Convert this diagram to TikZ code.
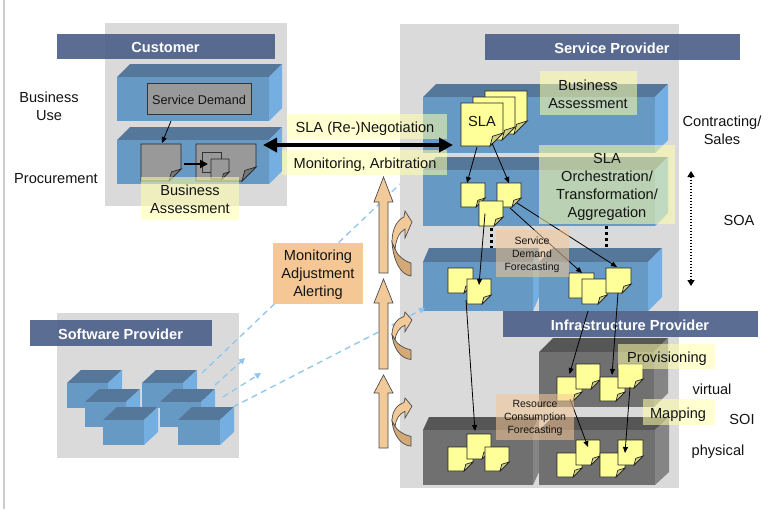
\documentclass[tikz,border=0pt]{standalone}
\usepackage{fontspec}
\setmainfont{Liberation Sans}
\usetikzlibrary{arrows.meta,calc}
\definecolor{panelc}{HTML}{DADADA}
\definecolor{barc}{HTML}{4F628A}
\definecolor{bluef}{HTML}{6699C4}
\definecolor{bluet}{HTML}{55789A}
\definecolor{bluer}{HTML}{75AEE0}
\definecolor{grayf}{HTML}{707070}
\definecolor{grayt}{HTML}{565656}
\definecolor{grayr}{HTML}{858585}
\definecolor{noteY}{HTML}{FFFF99}
\definecolor{noteYd}{HTML}{CFCF85}
\definecolor{noteG}{HTML}{999999}
\definecolor{noteGd}{HTML}{777777}
\definecolor{overY}{HTML}{FFFFA8}
\definecolor{overO}{HTML}{F5C795}
\definecolor{tanc}{HTML}{F2C998}
\definecolor{tand}{HTML}{D3A978}
\definecolor{dashc}{HTML}{8EC6F0}
\definecolor{txt}{HTML}{141414}
\tikzset{
  x=1pt,y=-1pt,
  lab/.style={font=\fontsize{14.6}{18}\selectfont,text=txt,align=center,inner sep=0},
  smalllab/.style={font=\fontsize{10.5}{13}\selectfont,text=txt,align=center,inner sep=0},
  barlab/.style={font=\fontsize{14.6}{18}\selectfont\bfseries,text=white,align=center,inner sep=0},
  conn/.style={draw=black,line width=.8pt,-{Triangle[length=6pt,width=5pt]}},
  dash1/.style={draw=dashc,line width=1.3pt,dash pattern=on 6pt off 4.5pt},
  dashar/.style={dash1,-{Triangle[length=6pt,width=6pt]}},
  dotsv/.style={draw=black,line width=3pt,dash pattern=on 3pt off 3pt},
}
% box of the given corners: name, x1,y1,x2,y2, options
\newcommand{\rectnode}[6]{\node[inner sep=0,outer sep=0,minimum width={(#4-#2)*1pt},minimum height={(#5-#3)*1pt},#6] (#1) at ({(#2+#4)/2},{(#3+#5)/2}) {};}
\newcommand{\cuboid}[8]{% name,x1,y1,x2,y2,depth,colour prefix, slant-y
  \fill[#7t] (#2,#3) -- (#2+#6,#3-#8) -- (#4+#6,#3-#8) -- (#4,#3) -- cycle;
  \fill[#7r] (#4,#3) -- (#4+#6,#3-#8) -- (#4+#6,#5-#8) -- (#4,#5) -- cycle;
  \rectnode{#1}{#2}{#3}{#4}{#5}{fill=#7f}
}
\newcommand{\note}[7]{% name,x1,y1,x2,y2,fold,colour prefix
  \pgfmathsetmacro{\fo}{#6}
  \rectnode{#1}{#2}{#3}{#4}{#5}{}
  \filldraw[draw=black!85,line width=.9pt,fill=#7] (#2,#3) -- (#4,#3) -- (#4,#5-\fo) -- (#4-\fo,#5) -- (#2,#5) -- cycle;
  \filldraw[draw=black!85,line width=.7pt,fill=#7d] (#4,#5-\fo) -- (#4-\fo*.8,#5-\fo*.75) -- (#4-\fo,#5) -- cycle;
}
\newcommand{\ynote}[5]{\note{#1}{#2}{#3}{#4}{#5}{9}{noteY}}
\newcommand{\overlay}[6]{\rectnode{#1}{#2}{#3}{#4}{#5}{fill=#6,fill opacity=.55}}
\newcommand{\joint}[6]{\draw[conn] ($(#1.center)+(#2,#3)$) -- ($(#4.center)+(#5,#6)$);}
\newcommand{\uparr}[5]{% name,x,tip,base,bottom
  \filldraw[draw=black!70,line width=.7pt,fill=tanc] (#2,#3) -- (#2+9.5,#4) -- (#2+4.5,#4) -- (#2+4.5,#5) -- (#2-4.5,#5) -- (#2-4.5,#4) -- (#2-9.5,#4) -- cycle;
  \coordinate (#1) at (#2,#3);
}
\newcommand{\turnarr}[3]{% top y, y scale, name
  \begin{scope}[shift={(392,#1)},yscale=#2]
    \filldraw[draw=black!70,line width=.7pt,fill=tand] (0,31) .. controls (1,48) and (8,64) .. (19,65) -- (19,52) .. controls (12,50) and (5,44) .. (3,38) -- cycle;
    \filldraw[draw=black!70,line width=.7pt,fill=tanc] (0,31) .. controls (0,18) and (5,9) .. (12,6) -- (13,0) -- (20,11) -- (13,27) -- (13,18) .. controls (7,21) and (4,29) .. (3,38) -- cycle;
  \end{scope}
  \coordinate (#3) at (392,#1);
}
\begin{document}
\begin{tikzpicture}
\useasboundingbox (0,0) rectangle (770,509);
\fill[white] (0,0) rectangle (770,509);
\coordinate (edgeT) at (4,0);
\coordinate (edgeB) at (4,509);
\draw[black!20,line width=1.4pt] (edgeT) -- (edgeB);

% panels
\rectnode{custpanel}{105}{23}{287}{206}{fill=panelc}
\rectnode{swpanel}{57}{313}{239}{458}{fill=panelc}
\rectnode{sppanel}{400}{24}{679}{488}{fill=panelc}

% header bars
\rectnode{custbar}{57}{34}{275}{59}{fill=barc,fill opacity=.93}
\rectnode{swbar}{30}{320}{212}{346}{fill=barc,fill opacity=.93}
\rectnode{spbar}{485}{34}{740}{60}{fill=barc,fill opacity=.93}
\node[barlab] (custtxt) at (165.5,47) {Customer};
\node[barlab] (swtxt) at (120.5,334) {Software Provider};
\node[barlab] (sptxt) at (612,48) {Service Provider};

% customer
\cuboid{cbiz}{117}{77}{269}{121}{13}{blue}{13}
\cuboid{cproc}{117}{140}{269}{184}{13}{blue}{13}
\rectnode{demand}{147}{83}{251}{114}{fill=noteG,draw=black!80,line width=.9pt}
\node[inner sep=0,font=\fontsize{12.7}{15}\selectfont,text=txt] (demandtxt) at (199,100) {Service Demand};
\note{cd1}{141}{144}{181}{181}{12}{noteG}
\note{cd2}{196}{144}{256}{181}{14}{noteG}
\rectnode{cd3}{202}{152}{221}{172}{fill=noteG,draw=black!80,line width=.8pt}
\note{cd4}{211}{159}{229}{179}{7}{noteG}
\draw[conn] ($(demand.south)+(-28,7)$) -- ($(cd1.north)+(1,-1)$);
\draw[draw=black,line width=2pt,-{Triangle[length=8pt,width=8pt]}] ($(cd1.east)+(3,1.5)$) -- ($(cd4.west)+(-3,-5)$);

% service provider cuboids
\cuboid{spa}{423}{97}{655}{153}{13}{blue}{13}
\cuboid{spb}{423}{170}{655}{226}{13}{blue}{13}
\cuboid{spc}{423}{262}{533}{311}{6}{blue}{14}
\cuboid{spd}{539}{262}{648}{311}{14}{blue}{14}
\rectnode{ipbar}{503}{311}{758}{337}{fill=barc,fill opacity=.93}
\node[barlab] (iptxt) at (630,325) {Infrastructure Provider};

% infrastructure cuboids
\cuboid{ipa}{539}{352}{654}{407}{14}{gray}{14}
\cuboid{ipb}{423}{430}{533}{485}{6}{gray}{13}
\cuboid{ipc}{539}{430}{655}{485}{14}{gray}{13}

% dotted links
\coordinate (da1) at (491,228);
\coordinate (da2) at (491,248);
\coordinate (db1) at (606,226);
\coordinate (db2) at (606,248);
\draw[dotsv] (da1) -- (da2);
\draw[dotsv] (db1) -- (db2);

% software boxes
\cuboid{sw1}{67}{383}{108}{408}{14}{blue}{13}
\cuboid{sw4}{142}{383}{183}{408}{14}{blue}{13}
\cuboid{sw2}{85}{402}{126}{427}{14}{blue}{13}
\cuboid{sw5}{160}{402}{201}{427}{14}{blue}{13}
\cuboid{sw3}{103}{420}{144}{445}{14}{blue}{13}
\cuboid{sw6}{178}{420}{220}{445}{14}{blue}{13}

% dashed blue lines
\coordinate (dl1a) at (202,373);
\coordinate (dl1b) at (400,184);
\coordinate (dl2a) at (215,385);
\coordinate (dl2b) at (245,358);
\coordinate (dl3a) at (223,397);
\coordinate (dl3b) at (261,373);
\coordinate (dl4a) at (233,407);
\coordinate (dl4b) at (425,308);
\draw[dash1] (dl1a) -- (dl1b);
\draw[dashar] (dl2a) -- (dl2b);
\draw[dashar] (dl3a) -- (dl3b);
\draw[dashar] (dl4a) -- (dl4b);

% notes
\note{sla3}{485}{91}{527}{134}{13}{noteY}
\note{sla2}{473}{97}{515}{140}{13}{noteY}
\note{sla1}{461}{103}{503}{146}{13}{noteY}
\node[lab] (slatxt) at (482,121) {SLA};
\ynote{sa}{461}{183}{485}{207}
\ynote{sb}{497}{183}{521}{207}
\ynote{sc}{479}{201}{503}{226}
\ynote{r1}{448}{268}{473}{293}
\ynote{r2}{467}{279}{491}{304}
\ynote{r3}{569}{273}{594}{298}
\ynote{r4}{582}{279}{607}{304}
\ynote{r5}{606}{268}{631}{293}
\ynote{v1}{557}{377}{582}{401}
\ynote{v2}{576}{364}{600}{389}
\ynote{v3}{600}{377}{625}{401}
\ynote{v4}{618}{364}{643}{388}
\ynote{p1}{448}{447}{473}{471}
\ynote{p2}{467}{434}{491}{459}
\ynote{p3}{485}{447}{509}{471}
\ynote{p4}{557}{453}{582}{477}
\ynote{p5}{576}{440}{600}{465}
\ynote{p6}{600}{453}{625}{477}
\ynote{p7}{618}{440}{643}{465}

% connectors between notes
\joint{sla1}{-5}{22.5}{sa}{-6}{-12}
\joint{sla1}{10}{18.5}{sb}{0}{-12}
\joint{sc}{-6}{0}{r2}{0}{-6.5}
\joint{r2}{-13}{8.5}{p2}{-4}{-15.5}
\joint{sb}{1}{13}{r3}{0.5}{-12.5}
\joint{sb}{8}{8}{r5}{-1.5}{-13.5}
\joint{r4}{-6.5}{19.5}{v1}{0}{-15}
\joint{r5}{-0.5}{12.5}{v3}{-0.5}{-14}
\joint{v1}{0.5}{10}{p5}{0}{-5.5}
\joint{v4}{-0.5}{11}{p7}{-5.5}{0.5}

% translucent label fields
\overlay{ovneg}{287}{114}{447}{139}{overY}
\overlay{ovmon}{282}{150}{447}{175}{overY}
\overlay{ovbac}{141}{177}{239}{220}{overY}
\overlay{ovbas}{540}{71}{637}{115}{overY}
\overlay{ovorch}{539}{145}{675}{224}{overY}
\overlay{ovprov}{618}{344}{715}{369}{overY}
\overlay{ovmap}{643}{399}{715}{425}{overY}
\overlay{ovsd}{496}{230}{569}{277}{overO}
\overlay{ovrc}{496}{394}{574}{440}{overO}

% negotiation arrow
\coordinate (negL) at (263,145);
\coordinate (negR) at (453,145);
\draw[draw=black,line width=4pt,{Triangle[length=14pt,width=14pt]}-{Triangle[length=14pt,width=14pt]}] (negL) -- (negR);

% orange arrows
\uparr{ua1}{383.5}{177}{202}{273}
\uparr{ua2}{383.5}{279}{303}{369}
\uparr{ua3}{383.5}{375}{393}{448}
\turnarr{211}{1}{ta1}
\turnarr{312}{.73}{ta2}
\turnarr{398}{.74}{ta3}

% monitoring box
\rectnode{monbox}{273}{243}{363}{304}{fill=overO}
\node[lab] (montxt) at (318,275) {Monitoring\\Adjustment\\Alerting};

% labels
\node[lab] (tneg) at (365,128.5) {SLA (Re-)Negotiation};
\node[lab] (tmon) at (365,164.5) {Monitoring, Arbitration};
\node[lab] (tbac) at (190,199.5) {Business\\Assessment};
\node[lab] (tbas) at (588,94) {Business\\Assessment};
\node[lab] (torch) at (607,187) {SLA\\Orchestration/\\Transformation/\\Aggregation};
\node[smalllab] (tsd) at (532,255) {Service\\Demand\\Forecasting};
\node[smalllab] (trc) at (535,418) {Resource\\Consumption\\Forecasting};
\node[lab] (tprov) at (667,359) {Provisioning};
\node[lab] (tmap) at (678,415) {Mapping};
\node[lab] (tuse) at (49,106) {Business\\Use};
\node[lab] (tproc) at (56,179) {Procurement};
\node[lab] (tcs) at (722,130.5) {Contracting/\\Sales};
\node[lab] (tsoa) at (739,220) {SOA};
\node[lab] (tvirt) at (712,389) {virtual};
\node[lab] (tsoi) at (742,419) {SOI};
\node[lab] (tphys) at (718,451.5) {physical};

% SOA range arrow
\coordinate (soaT) at (691,171);
\coordinate (soaB) at (691,286);
\draw[draw=black,line width=1.8pt,dash pattern=on 1.6pt off 1.4pt,{Triangle[length=6pt,width=7pt]}-{Triangle[length=6pt,width=7pt]}] (soaT) -- (soaB);
\end{tikzpicture}
\end{document}
